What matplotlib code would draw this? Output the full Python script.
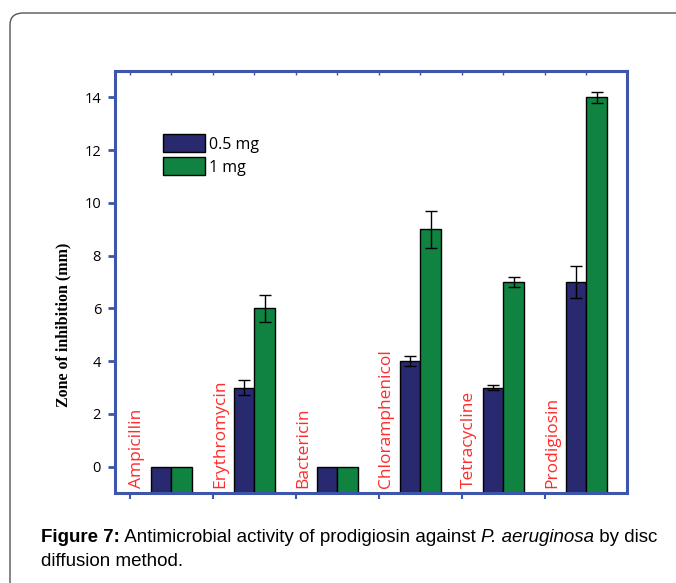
"""Zone of inhibition bar chart (Figure 7 recreation), saved to out.png."""

import matplotlib.pyplot as plt
import numpy as np
from matplotlib.patches import FancyBboxPatch, Patch

antibiotics = ["Ampicillin", "Erythromycin", "Bactericin",
               "Chloramphenicol", "Tetracycline", "Prodigiosin"]
dose_labels = ["0.5 mg", "1 mg"]
zone_05mg = [0, 3, 0, 4, 3, 7]
err_05mg = [0, 0.3, 0, 0.2, 0.1, 0.6]
zone_1mg = [0, 6, 0, 9, 7, 14]
err_1mg = [0, 0.5, 0, 0.7, 0.2, 0.2]
y_ticks = [0, 2, 4, 6, 8, 10, 12, 14]

NAVY = "#29296f"
GREEN = "#118340"
SPINE = "#3d56aa"
LABEL_RED = "#ff2b2b"
BASE = -1.0


def draw_errors(ax, xs, vals, errs, ekw):
    xs = np.asarray(xs)
    vals = np.asarray(vals, dtype=float)
    errs = np.asarray(errs, dtype=float)
    m = errs > 0
    ax.errorbar(xs[m], vals[m], yerr=errs[m], fmt="none", zorder=3, **ekw)


def main() -> None:
    fig = plt.figure(figsize=(6.76, 5.83), dpi=100)

    # rounded page frame
    frame = FancyBboxPatch((10 / 676, -0.2), 1.2, 1 - 13 / 583 + 0.2,
                           boxstyle="round,pad=0,rounding_size=0.02",
                           transform=fig.transFigure, fill=False,
                           edgecolor="#555555", linewidth=1.0)
    fig.patches.append(frame)

    ax = fig.add_axes([115 / 676, 1 - 493 / 583, 512 / 676, 422 / 583])
    x = np.arange(len(antibiotics))
    w = 0.25
    h05 = np.array(zone_05mg) - BASE
    h1 = np.array(zone_1mg) - BASE
    ax.bar(x + 0.5 - w / 2, h05, w, bottom=BASE, color=NAVY, edgecolor="black",
           linewidth=1.0, zorder=2)
    ax.bar(x + 0.5 + w / 2, h1, w, bottom=BASE, color=GREEN, edgecolor="black",
           linewidth=1.0, zorder=2)
    ekw = dict(elinewidth=1.0, capsize=4, capthick=1.0, ecolor="black")
    draw_errors(ax, x + 0.5 - w / 2, zone_05mg, err_05mg, ekw)
    draw_errors(ax, x + 0.5 + w / 2, zone_1mg, err_1mg, ekw)

    for xi, name in zip(x, antibiotics):
        ax.text(xi + 0.09, -0.8, name, rotation=90, ha="center", va="bottom",
                color=LABEL_RED, fontsize=12.5, family="Open Sans")

    ax.set_xlim(-0.18, 5.99)
    ax.set_ylim(-1, 15)
    ax.set_yticks(y_ticks)
    ax.set_xticks(np.arange(0, 6))
    ax.set_xticklabels([])
    ax.tick_params(axis="y", direction="out", length=5, width=2, color=SPINE,
                   labelsize=10.5, pad=5)
    ax.tick_params(axis="x", direction="out", length=4, width=1.5, color=SPINE)
    for lab in ax.get_yticklabels():
        lab.set_family("Open Sans")

    # top axis with inward half-group ticks
    top = ax.secondary_xaxis("top")
    top.set_xticks(np.arange(0, 6, 0.5))
    top.tick_params(direction="in", length=3, width=1.0, color=SPINE,
                    labeltop=False)
    top.spines["top"].set_visible(False)

    for sp in ax.spines.values():
        sp.set_color(SPINE)
        sp.set_linewidth(2.2)

    fig.text(63 / 676, 1 - 325 / 583, "Zone of inhibition (mm)",
             rotation=90, ha="center", va="center", family="Liberation Serif",
             fontweight="bold", fontsize=11.5)

    handles = [Patch(facecolor=NAVY, edgecolor="black"),
               Patch(facecolor=GREEN, edgecolor="black")]
    ax.legend(handles, dose_labels, loc="upper left",
              bbox_to_anchor=(0.094, 0.85), frameon=False,
              prop={"family": "Open Sans", "size": 11.5},
              handlelength=2.6, handleheight=1.35, handletextpad=0.3,
              labelspacing=0.3, borderaxespad=0, borderpad=0)

    # caption with mixed bold / italic runs
    renderer = fig.canvas.get_renderer()
    runs = [("Figure 7:", "bold", "normal"),
            (" Antimicrobial activity of prodigiosin against ", "normal", "normal"),
            ("P. aeruginosa", "normal", "italic"),
            (" by disc", "normal", "normal")]
    xpos = 41 / 676
    for txt, weight, style in runs:
        t = fig.text(xpos, 1 - 538 / 583, txt, fontsize=13.5, va="center",
                     family="Liberation Sans", fontweight=weight,
                     fontstyle=style)
        bb = t.get_window_extent(renderer)
        xpos += bb.width / fig.bbox.width
    fig.text(41 / 676, 1 - 561 / 583, "diffusion method.", fontsize=13.5,
             va="center", family="Liberation Sans")

    fig.savefig("out.png", dpi=100)


if __name__ == "__main__":
    main()
